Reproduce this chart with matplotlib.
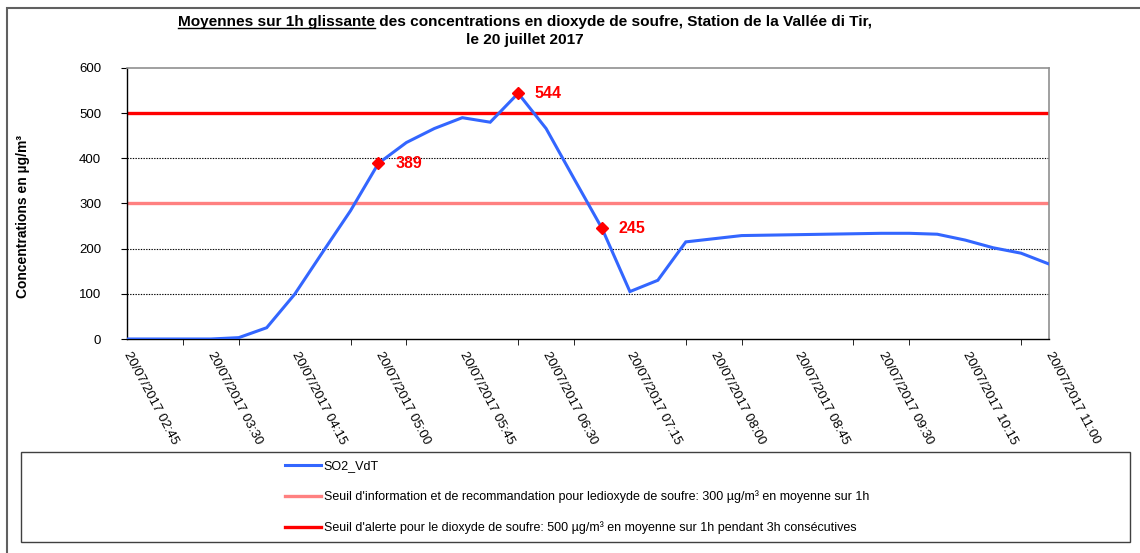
import matplotlib
matplotlib.use("Agg")
import matplotlib.pyplot as plt
from matplotlib.patches import Rectangle
from matplotlib.lines import Line2D

plt.rcParams['font.family'] = ['Liberation Sans', 'DejaVu Sans']

# ---- data ----
times = ["02:45", "03:00", "03:15", "03:30", "03:45", "04:00", "04:15", "04:30", "04:45",
         "05:00", "05:15", "05:30", "05:45", "06:00", "06:15", "06:30", "06:45", "07:00",
         "07:15", "07:30", "07:45", "08:00", "08:15", "08:30", "08:45", "09:00", "09:15",
         "09:30", "09:45", "10:00", "10:15", "10:30", "10:45", "11:00"]
so2 = [0, 0, 0, 0, 3, 25, 99, 192, 284, 389, 435, 466, 490, 480, 544, 466, 355, 245,
       105, 130, 215, 222, 229, 230, 231, 232, 233, 234, 234, 232, 219, 202, 190, 166]
highlight_idx = [9, 14, 17]
seuil_info = 300
seuil_alerte = 500
date_prefix = "20/07/2017"
series_label = "SO2_VdT"
info_label = "Seuil d'information et de recommandation pour ledioxyde de soufre: 300 µg/m³ en moyenne sur 1h"
alerte_label = "Seuil d'alerte pour le dioxyde de soufre: 500 µg/m³ en moyenne sur 1h pendant 3h consécutives"
yticks = [0, 100, 200, 300, 400, 500, 600]

W, H = 1140, 553
fig = plt.figure(figsize=(W / 100, H / 100), dpi=100)
ax = fig.add_axes([127 / W, 1 - 339 / H, (1049 - 127) / W, (339 - 68) / H])

x = list(range(len(times)))
for y in [100, 200, 400]:
    ax.axhline(y, color='black', lw=0.8, ls=(0, (1.2, 1.2)), zorder=1)
l_info = ax.axhline(seuil_info, color='#FF8080', lw=2.4, zorder=2)
l_al = ax.axhline(seuil_alerte, color='#FF0000', lw=2.4, zorder=2)
l_so2, = ax.plot(x, so2, color='#3366FF', lw=2.2, zorder=3, solid_joinstyle='miter')
ax.plot([x[i] for i in highlight_idx], [so2[i] for i in highlight_idx], ls='none',
        marker='D', ms=6, color='#FF0000', zorder=4)
for i in highlight_idx:
    ax.annotate(str(so2[i]), (x[i], so2[i]), xytext=(12, 0), textcoords='offset points',
                ha='left', va='center', color='#FF0000', fontsize=11.5, fontweight='bold')

ax.set_xlim(0, len(times) - 1)
ax.set_ylim(0, 600)
ax.set_yticks(yticks)
ax.tick_params(axis='y', direction='out', length=4, labelsize=9.5, colors='black', pad=14.5)
ax.set_xticks(range(0, len(times), 3))
ax.set_xticklabels([f"{date_prefix} {times[i]}" for i in range(0, len(times), 3)],
                   rotation=-62, ha='left', va='center', rotation_mode='anchor', fontsize=9.5)
ax.set_xticks(range(0, len(times), 2), minor=True)
ax.tick_params(axis='x', which='major', length=0, pad=9.5)
ax.tick_params(axis='x', which='minor', direction='out', length=4)
for s in ['top', 'right']:
    ax.spines[s].set_color('#909090')
    ax.spines[s].set_linewidth(1.2)
for s in ['left', 'bottom']:
    ax.spines[s].set_color('black')
    ax.spines[s].set_linewidth(1.0)

ax.set_ylabel("Concentrations en µg/m³", fontsize=10, fontweight='bold')
ax.yaxis.set_label_coords(30 / W, 1 - 216 / H, transform=fig.transFigure)

# title
TFS = 11.1
t1 = fig.text(525 / W, 1 - 22 / H,
              "Moyennes sur 1h glissante des concentrations en dioxyde de soufre, Station de la Vallée di Tir,",
              ha='center', va='center', fontsize=TFS, fontweight='bold')
fig.text(525 / W, 1 - 40 / H, "le 20 juillet 2017", ha='center', va='center',
         fontsize=TFS, fontweight='bold')

# outer frame and legend box
fig.patches.append(Rectangle((7 / W, -0.2), 2, 1.2 - 8 / H, transform=fig.transFigure,
                             fill=False, ec='#606060', lw=1.5))
fig.patches.append(Rectangle((21 / W, 1 - 542 / H), (1130 - 21) / W, 90 / H,
                             transform=fig.transFigure, fill=False, ec='#404040', lw=1.0))

fig.legend([l_so2, l_info, l_al], [series_label, info_label, alerte_label],
           loc='upper left', bbox_to_anchor=(285 / W, 1 - 460 / H), bbox_transform=fig.transFigure,
           frameon=False, fontsize=9, handlelength=2.9, handletextpad=0.2,
           labelspacing=1.45, borderpad=0, borderaxespad=0)

# underline first part of title
fig.canvas.draw()
r = fig.canvas.get_renderer()
bb = t1.get_window_extent(r)
tmp = fig.text(0, 0, "Moyennes sur 1h glissante", fontsize=TFS, fontweight='bold')
wb = tmp.get_window_extent(r)
tmp.remove()
fig.add_artist(Line2D([bb.x0 / W, (bb.x0 + wb.width) / W],
                      [(bb.y0 + 1) / H, (bb.y0 + 1) / H], color='black', lw=1.0,
                      transform=fig.transFigure))

fig.savefig("out.png", dpi=100)
